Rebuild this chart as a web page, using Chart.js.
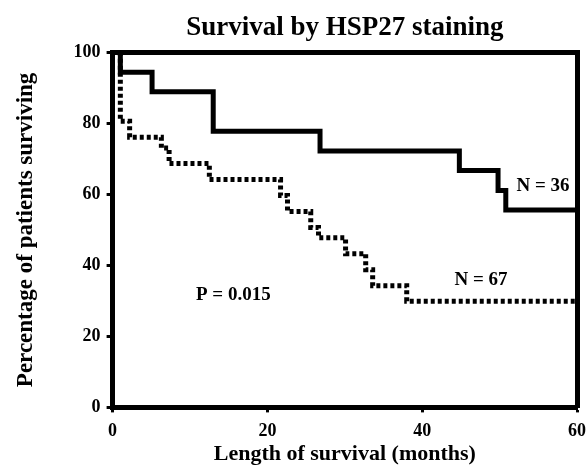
<!DOCTYPE html>
<html>
<head>
<meta charset="utf-8">
<script src="https://cdn.jsdelivr.net/npm/chart.js@4.4.1/dist/chart.umd.min.js"></script>
<style>
  html, body { margin: 0; padding: 0; background: #fff; }
  #wrap { width: 587px; height: 465px; }
</style>
</head>
<body>
<div id="wrap"><canvas id="c" width="587" height="465"></canvas></div>
<script>
// Kaplan-Meier steps: month at which survival drops, and survival (%) from then on
const posMonths = [0, 1.0, 5.1, 13.0, 26.8, 44.8, 49.8, 50.8, 60];
const posSurv   = [100, 94.4, 88.9, 77.8, 72.2, 66.7, 61.1, 55.6, 55.6];
const negMonths = [0, 1.0, 2.2, 6.3, 7.3, 12.5, 21.7, 22.6, 25.6, 26.6, 30.1, 32.7, 33.6, 38.0, 60];
const negSurv   = [100, 80.6, 76.1, 73.1, 68.7, 64.2, 59.7, 55.2, 50.7, 47.8, 43.3, 38.8, 34.3, 29.9, 29.9];
const xTicks = [0, 20, 40, 60];
const yTicks = [0, 20, 40, 60, 80, 100];
const titleText = "Survival by HSP27 staining";
const xTitle = "Length of survival (months)";
const yTitle = "Percentage of patients surviving";
const notes = [
  { text: "N = 36", x: 55.6, y: 62.3 },
  { text: "N = 67", x: 47.6, y: 35.8 },
  { text: "P = 0.015", x: 15.6, y: 31.5 }
];

const FONT = "'Liberation Serif', 'Times New Roman', serif";

const toPts = (xs, ys) => xs.map((x, i) => ({ x: x, y: ys[i] }));

const notesPlugin = {
  id: 'notes',
  afterLayout(chart) {
    // centre the chart title over the plot area
    if (chart.titleBlock) {
      chart.titleBlock.left = chart.chartArea.left;
      chart.titleBlock.right = chart.chartArea.right;
    }
  },
  afterDatasetsDraw(chart) {
    const ctx = chart.ctx;
    const xs = chart.scales.x, ys = chart.scales.y;
    ctx.save();
    ctx.fillStyle = '#000';
    ctx.font = "bold 19px " + FONT;
    ctx.textAlign = 'center';
    ctx.textBaseline = 'middle';
    notes.forEach(n => {
      ctx.fillText(n.text, xs.getPixelForValue(n.x), ys.getPixelForValue(n.y));
    });
    ctx.restore();
  }
};

new Chart(document.getElementById('c'), {
  type: 'line',
  data: {
    datasets: [
      {
        label: 'HSP27 negative',
        data: toPts(negMonths, negSurv),
        stepped: 'before',
        borderColor: '#000',
        borderWidth: 5,
        borderDash: [4, 3],
        borderCapStyle: 'butt',
        pointRadius: 0,
        fill: false
      },
      {
        label: 'HSP27 positive',
        data: toPts(posMonths, posSurv),
        stepped: 'before',
        borderColor: '#000',
        borderWidth: 5,
        pointRadius: 0,
        fill: false
      }
    ]
  },
  options: {
    responsive: false,
    animation: false,
    devicePixelRatio: 1,
    layout: { padding: { left: 12, right: 10, top: 0, bottom: 0 } },
    plugins: {
      legend: { display: false },
      tooltip: { enabled: false },
      title: {
        display: true,
        text: titleText,
        color: '#000',
        font: { family: FONT, size: 27, weight: 'bold', lineHeight: 1.2 },
        padding: { top: 12, bottom: 8 }
      }
    },
    scales: {
      x: {
        type: 'linear',
        min: 0, max: 60,
        afterBuildTicks: s => { s.ticks = xTicks.map(v => ({ value: v })); },
        afterFit: s => { s.paddingRight = 0; },
        ticks: { color: '#000', font: { family: FONT, size: 18, weight: 'bold', lineHeight: 1.2 }, padding: 8 },
        grid: { drawOnChartArea: false, drawTicks: true, tickLength: 5, tickWidth: 3, tickColor: '#000' },
        border: { display: true, color: '#000', width: 5 },
        title: { display: true, text: xTitle, color: '#000', font: { family: FONT, size: 22, weight: 'bold', lineHeight: 1.0 }, padding: { top: -7, bottom: 0 } }
      },
      x2: {
        type: 'linear', position: 'top', min: 0, max: 60,
        ticks: { display: false },
        grid: { drawOnChartArea: false, drawTicks: false },
        border: { display: true, color: '#000', width: 5 }
      },
      y: {
        type: 'linear',
        min: 0, max: 100,
        afterBuildTicks: s => { s.ticks = yTicks.map(v => ({ value: v })); },
        ticks: { color: '#000', font: { family: FONT, size: 18, weight: 'bold' }, padding: 6 },
        grid: { drawOnChartArea: false, drawTicks: true, tickLength: 6, tickWidth: 3, tickColor: '#000' },
        border: { display: true, color: '#000', width: 5 },
        title: { display: true, text: yTitle, color: '#000', font: { family: FONT, size: 23, weight: 'bold', lineHeight: 1.2 }, padding: { top: 0, bottom: 28 } }
      },
      y2: {
        type: 'linear', position: 'right', min: 0, max: 100,
        ticks: { display: false },
        grid: { drawOnChartArea: false, drawTicks: false },
        border: { display: true, color: '#000', width: 5 }
      }
    }
  },
  plugins: [notesPlugin]
});
</script>
</body>
</html>
